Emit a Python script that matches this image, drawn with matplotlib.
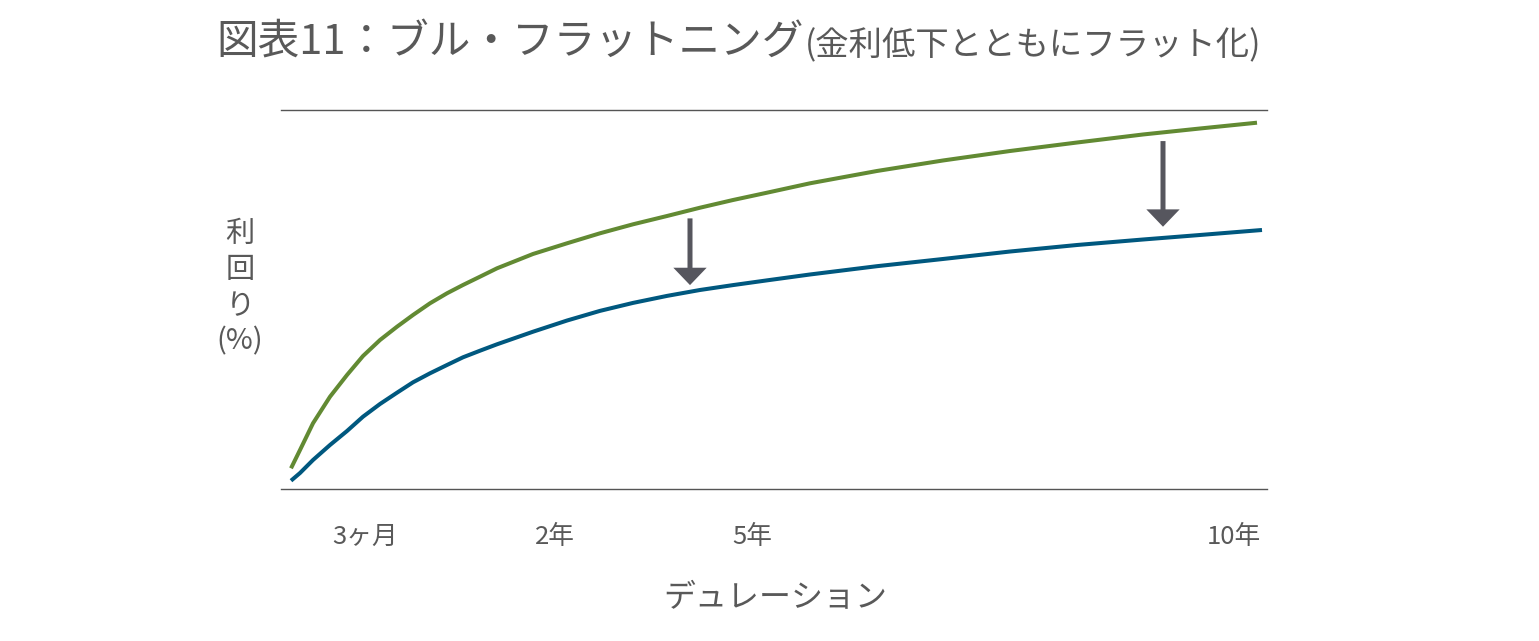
import matplotlib
matplotlib.use("Agg")
import matplotlib.pyplot as plt
from matplotlib.patches import FancyArrowPatch

plt.rcParams['font.family'] = ['Noto Sans CJK JP', 'DejaVu Sans']

# ---- data (schematic positions along the duration axis, yield index 0-100) ----
green_x = [291, 300, 313, 330, 347, 363, 380, 397, 413, 430, 447, 463, 480, 497,
           533, 567, 600, 633, 667, 700, 733, 767, 810, 877, 943, 1010, 1077, 1143, 1200, 1257]
green_y = [5.46, 10.29, 17.34, 24.35, 30.08, 35.09, 39.31, 42.82, 45.91, 49.00, 51.64,
           53.83, 56.02, 58.23, 62.01, 64.83, 67.47, 69.84, 72.03, 74.22, 76.25, 78.18,
           80.66, 83.91, 86.68, 89.18, 91.42, 93.54, 95.12, 96.65]
blue_x = [291, 300, 313, 330, 347, 363, 380, 397, 413, 430, 447, 463, 480, 497,
          533, 567, 600, 633, 667, 700, 733, 767, 810, 877, 943, 1010, 1077, 1143, 1200, 1262]
blue_y = [2.19, 4.22, 7.65, 11.61, 15.30, 19.08, 22.43, 25.41, 28.15, 30.53, 32.72,
          34.75, 36.49, 38.18, 41.50, 44.45, 47.00, 49.10, 50.95, 52.51, 53.80, 55.05,
          56.60, 58.79, 60.69, 62.66, 64.38, 65.83, 67.02, 68.34]

tick_pos = [365, 555, 752, 1234]
tick_labels = ['3ヶ月', '2年', '5年', '10年']

arrow_x = [690, 1163]
arrow_from = [71.4, 91.8]
arrow_to = [53.8, 69.2]

title_main = '図表11：ブル・フラットニング'
title_sub = '(金利低下とともにフラット化)'
ylabel = '利\n回\nり\n(%)'
xlabel = 'デュレーション'

GREEN = '#628a33'
BLUE = '#00587f'
GRAY = '#595959'
ARROW = '#56565e'

fig = plt.figure(figsize=(15.39, 6.41), dpi=100)
ax = fig.add_axes([281 / 1539, 1 - 489 / 641, (1267 - 281) / 1539, (489 - 110) / 641])
ax.set_xlim(281, 1267)
ax.set_ylim(0, 100)

ax.plot(green_x, green_y, color=GREEN, lw=2.9, solid_capstyle='butt', solid_joinstyle='round')
ax.plot(blue_x, blue_y, color=BLUE, lw=2.9, solid_capstyle='butt', solid_joinstyle='round')

for xa, y0, y1 in zip(arrow_x, arrow_from, arrow_to):
    arr = FancyArrowPatch((xa, y0), (xa, y1),
                          arrowstyle='simple,head_length=12.5,head_width=24,tail_width=3.6',
                          mutation_scale=1, color=ARROW, shrinkA=0, shrinkB=0, lw=0)
    ax.add_patch(arr)

for s in ['left', 'right']:
    ax.spines[s].set_visible(False)
for s in ['top', 'bottom']:
    ax.spines[s].set_color('#555555')
    ax.spines[s].set_linewidth(1.0)

ax.set_yticks([])
ax.set_xticks(tick_pos)
ax.set_xticklabels(tick_labels, fontsize=18.5, color=GRAY)
ax.tick_params(axis='x', length=0, pad=25)

fig.text(0.5035, 1 - 598 / 641, xlabel, ha='center', va='center', fontsize=23, color=GRAY)
fig.text(240 / 1539, 1 - 288 / 641, ylabel, ha='center', va='center', fontsize=21,
         color=GRAY, linespacing=1.25, multialignment='center')

t1 = fig.text(216 / 1539, 1 - 55 / 641, title_main, ha='left', va='baseline',
              fontsize=30, color=GRAY)
fig.canvas.draw()
bb = t1.get_window_extent(renderer=fig.canvas.get_renderer())
fig.text(bb.x1 / fig.bbox.width + 0.001, 1 - 55 / 641, title_sub, ha='left', va='baseline',
         fontsize=24, color=GRAY)

fig.savefig('out.png', dpi=100, facecolor='white')
